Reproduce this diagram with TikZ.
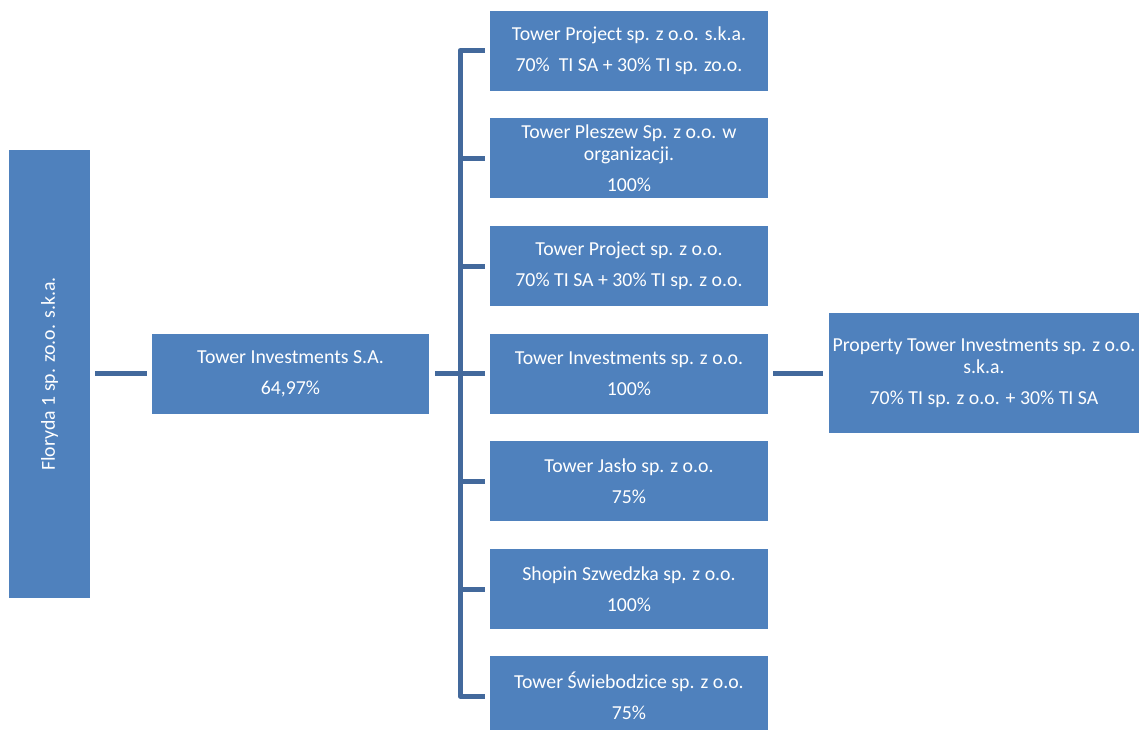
\documentclass[tikz,border=0pt]{standalone}
\usepackage{fontspec}
\setmainfont{Carlito}
\definecolor{boxblue}{HTML}{4F81BD}
\definecolor{lineblue}{HTML}{43699C}
\begin{document}
\begin{tikzpicture}[x=1pt,y=-1pt,
  box/.style={fill=boxblue,text=white,minimum width=278pt,minimum height=80pt,inner sep=0pt,align=center,
    font=\fontsize{19.8}{22}\selectfont},
  conn/.style={draw=lineblue,line width=5pt,line join=round}]
\useasboundingbox (0,0) rectangle (1139,729);
\clip (0,0) rectangle (1139,729);
\node[box,minimum width=81pt,minimum height=448pt] (flo) at (49.5,374) {};
\node[rotate=90,text=white,font=\fontsize{19.8}{22}\selectfont] (flot) at (flo.center) {Floryda 1 sp. zo.o. s.k.a.};
\node[box,minimum width=277pt,minimum height=80pt] (tisa) at (290.5,373.5) {Tower Investments S.A.\\[9pt]64,97\%};
\node[box] (b1) at (629,50.5) {Tower Project sp. z o.o. s.k.a.\\[9pt]70\%\ \ TI SA + 30\% TI sp. zo.o.};
\node[box] (b2) at (629,158) {Tower Pleszew Sp. z o.o. w\\organizacji.\\[9pt]100\%};
\node[box] (b3) at (629,266) {Tower Project sp. z o.o.\\[9pt]70\% TI SA + 30\% TI sp. z o.o.};
\node[box] (b4) at (629,373.5) {Tower Investments sp. z o.o.\\[9pt]100\%};
\node[box] (b5) at (629,481) {Tower Jasło sp. z o.o.\\[9pt]75\%};
\node[box] (b6) at (629,589) {Shopin Szwedzka sp. z o.o.\\[9pt]100\%};
\node[box] (b7) at (629,696) {Tower Świebodzice sp. z o.o.\\[9pt]75\%};
\node[box,minimum width=310pt,minimum height=120pt] (prop) at (984,373) {Property Tower Investments sp. z o.o.\\s.k.a.\\[9pt]70\% TI sp. z o.o. + 30\% TI SA};
\coordinate (sp) at (460,373.5);
\draw[conn,shorten <=5pt,shorten >=5pt] (tisa.west -| flo.east) -- (tisa.west);
\draw[conn,shorten <=6pt] (tisa.east) -- (sp);
\draw[conn,shorten <=5pt,shorten >=5pt] (b1.west) -| (sp) |- (b7.west);
\foreach \b in {b2,b3,b4,b5,b6}{\draw[conn,shorten >=5pt] (\b.west -| sp) -- (\b.west);}
\draw[conn,shorten <=5pt,shorten >=6pt] (b4.east) -- (b4.east -| prop.west);
\end{tikzpicture}
\end{document}
